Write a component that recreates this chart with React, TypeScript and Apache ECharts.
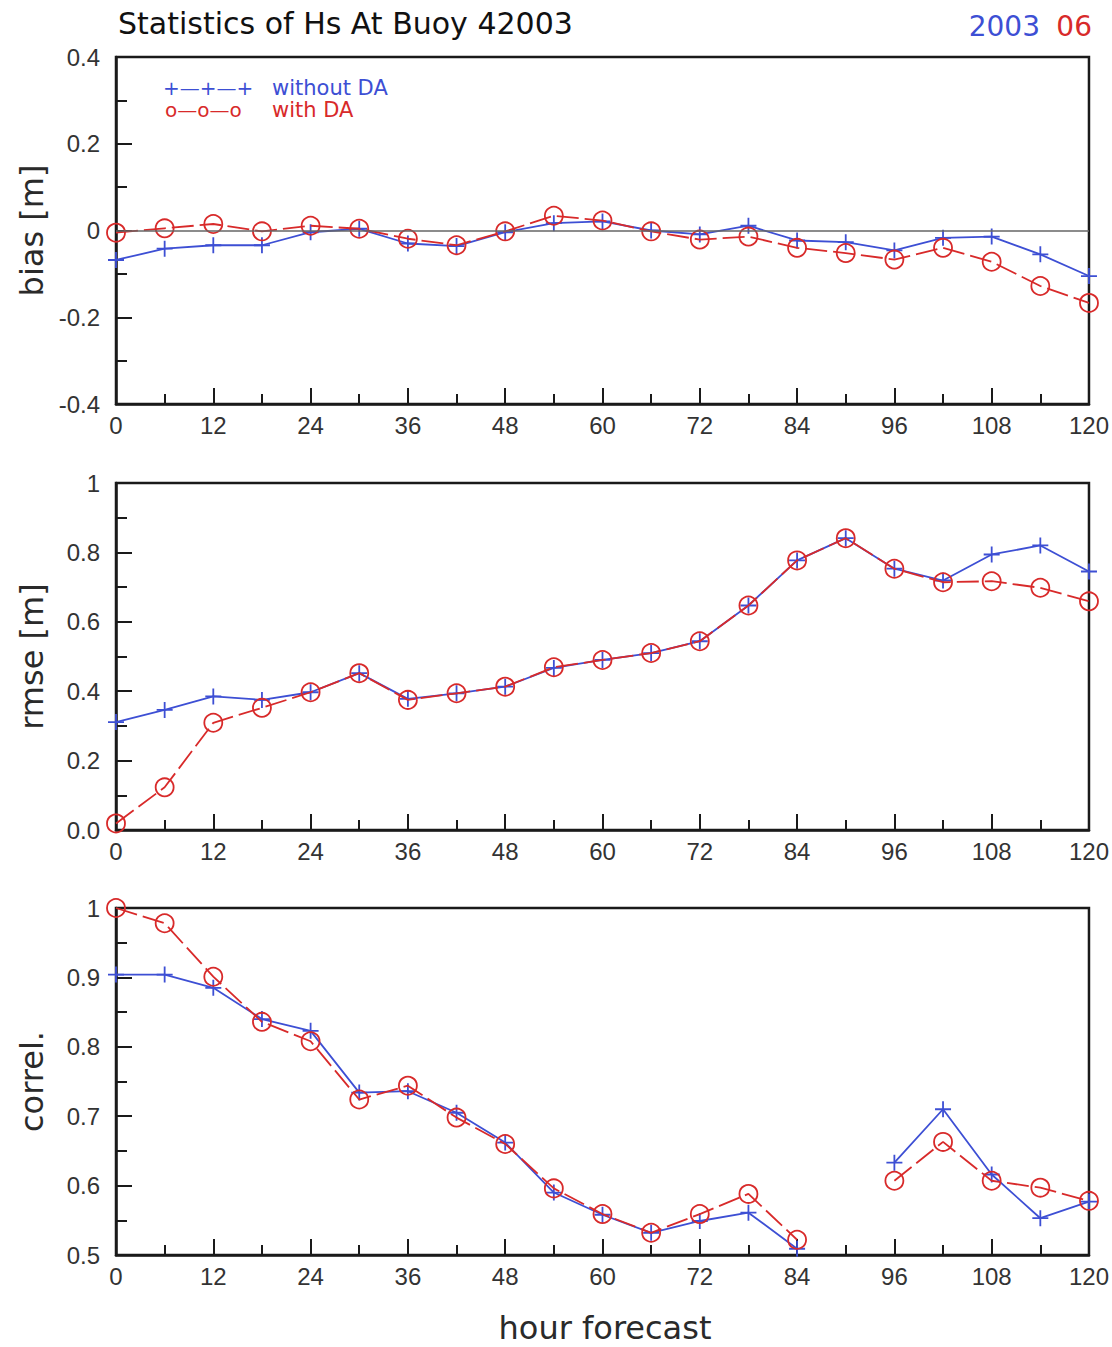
import React, { useEffect, useRef } from "react";
import * as echarts from "echarts";

const HOURS = [0, 6, 12, 18, 24, 30, 36, 42, 48, 54, 60, 66, 72, 78, 84, 90, 96, 102, 108, 114, 120];
const BIAS_NO_DA = [-0.068, -0.042, -0.034, -0.034, -0.004, 0.004, -0.03, -0.036, -0.004, 0.017, 0.021, 0.0, -0.009, 0.011, -0.023, -0.027, -0.046, -0.017, -0.014, -0.055, -0.105];
const BIAS_DA = [-0.005, 0.005, 0.015, -0.002, 0.011, 0.004, -0.019, -0.034, -0.002, 0.034, 0.023, -0.002, -0.021, -0.014, -0.04, -0.052, -0.067, -0.04, -0.072, -0.128, -0.167];
const RMSE_NO_DA = [0.311, 0.346, 0.385, 0.375, 0.397, 0.452, 0.378, 0.394, 0.413, 0.467, 0.49, 0.51, 0.544, 0.647, 0.777, 0.841, 0.753, 0.719, 0.794, 0.82, 0.745];
const RMSE_DA = [0.019, 0.123, 0.309, 0.352, 0.397, 0.452, 0.375, 0.394, 0.413, 0.469, 0.49, 0.51, 0.544, 0.647, 0.777, 0.841, 0.753, 0.714, 0.717, 0.698, 0.659];
const CORR_NO_DA = [0.904, 0.904, 0.885, 0.84, 0.823, 0.734, 0.736, 0.705, 0.662, 0.59, 0.558, 0.532, 0.549, 0.561, 0.509, null, 0.633, 0.71, 0.616, 0.553, 0.577];
const CORR_DA = [1.0, 0.978, 0.901, 0.836, 0.808, 0.724, 0.744, 0.698, 0.66, 0.596, 0.559, 0.532, 0.559, 0.588, 0.522, null, 0.607, 0.663, 0.607, 0.597, 0.578];

const PANEL_NAMES = ["bias [m]", "rmse [m]", "correl."];
const Y_RANGES = [
  { min: -0.4, max: 0.4, interval: 0.2 },
  { min: 0, max: 1, interval: 0.2 },
  { min: 0.5, max: 1, interval: 0.1 },
];

const BLUE = "#3d4fd4";
const RED = "#d82a2a";
const FONT_MAIN = '"DejaVu Sans", sans-serif';
const FONT_TICK = '"Liberation Sans", Arial, sans-serif';

const GRID_LEFT = 116;
const GRID_WIDTH = 976;
const GRID_HEIGHT = 347;
const GRID_TOPS = [57, 483, 908];

const PLUS = "path://M0,5L10,5M5,0L5,10";

function pairs(vals: (number | null)[]) {
  return HOURS.map((h, i) => [h, vals[i] === null ? "-" : vals[i]]);
}

function yFormatter(panel: number) {
  return (v: number) => {
    if (Math.abs(v - 1) < 1e-9) return "1";
    if (Math.abs(v) < 1e-9) return panel === 0 ? "0" : "0.0";
    return v.toFixed(1);
  };
}

export default function App() {
  const ref = useRef<HTMLDivElement>(null);
  useEffect(() => {
    if (!ref.current) return;
    const chart = echarts.init(ref.current, undefined, { renderer: "svg" });
    const axisLine = { show: true, onZero: false, lineStyle: { color: "#1a1a1a", width: 2.5 } };
    const grids = GRID_TOPS.map((t) => ({
      left: GRID_LEFT,
      top: t,
      width: GRID_WIDTH,
      height: GRID_HEIGHT,
      show: true,
      borderColor: "#1a1a1a",
      borderWidth: 2.5,
      backgroundColor: "transparent",
    }));
    const xAxes = GRID_TOPS.map((_, i) => ({
      type: "value",
      gridIndex: i,
      min: 0,
      max: 120,
      interval: 12,
      axisLine,
      axisTick: { show: true, inside: true, length: 16, lineStyle: { color: "#1a1a1a", width: 2 } },
      minorTick: { show: true, splitNumber: 2, length: 10, lineStyle: { color: "#1a1a1a", width: 2 } },
      axisLabel: { color: "#333", fontSize: 24, fontFamily: FONT_TICK, margin: 9 },
      splitLine: { show: false },
      minorSplitLine: { show: false },
    }));
    const yAxes = Y_RANGES.map((r, i) => ({
      type: "value",
      gridIndex: i,
      min: r.min,
      max: r.max,
      interval: r.interval,
      axisLine,
      axisTick: { show: true, inside: true, length: 16, lineStyle: { color: "#1a1a1a", width: 2 } },
      minorTick: { show: true, splitNumber: 2, length: 11, lineStyle: { color: "#1a1a1a", width: 2 } },
      axisLabel: { color: "#333", fontSize: 24, fontFamily: FONT_TICK, margin: 16, formatter: yFormatter(i) },
      splitLine: { show: false },
      minorSplitLine: { show: false },
    }));
    const datasets = [
      [BIAS_NO_DA, BIAS_DA],
      [RMSE_NO_DA, RMSE_DA],
      [CORR_NO_DA, CORR_DA],
    ];
    const series: any[] = [];
    datasets.forEach(([noDa, da], i) => {
      const blue: any = {
        type: "line",
        xAxisIndex: i,
        yAxisIndex: i,
        data: pairs(noDa as (number | null)[]),
        symbol: PLUS,
        symbolSize: 16,
        showSymbol: true,
        connectNulls: false,
        lineStyle: { color: BLUE, width: 1.8, type: "solid" },
        itemStyle: { color: BLUE, borderColor: BLUE, borderWidth: 1.8 },
        silent: true,
        z: 3,
      };
      if (i === 0) {
        blue.markLine = {
          silent: true,
          symbol: ["none", "none"],
          label: { show: false },
          lineStyle: { color: "#666", width: 1.5, type: "solid" },
          data: [{ yAxis: 0 }],
        };
      }
      series.push(blue);
      series.push({
        type: "line",
        xAxisIndex: i,
        yAxisIndex: i,
        data: pairs(da as (number | null)[]),
        symbol: "circle",
        symbolSize: 18,
        showSymbol: true,
        connectNulls: false,
        lineStyle: { color: RED, width: 1.8, type: [22, 6] },
        itemStyle: { color: "rgba(255,255,255,0)", borderColor: RED, borderWidth: 1.8 },
        silent: true,
        z: 4,
      });
    });

    const graphic: any[] = [
      {
        type: "text",
        left: 118,
        top: 8,
        style: { text: "Statistics of Hs At Buoy 42003", fill: "#111", font: `30px ${FONT_MAIN}` },
      },
      {
        type: "text",
        x: 1040,
        y: 26,
        style: { text: "2003", fill: BLUE, font: `28px ${FONT_MAIN}`, textAlign: "right", textVerticalAlign: "middle" },
      },
      {
        type: "text",
        x: 1092,
        y: 26,
        style: { text: "06", fill: RED, font: `28px ${FONT_MAIN}`, textAlign: "right", textVerticalAlign: "middle" },
      },
      {
        type: "text",
        x: 163,
        y: 88,
        style: { text: "+—+—+", fill: BLUE, font: `20px ${FONT_MAIN}`, textVerticalAlign: "middle" },
      },
      {
        type: "text",
        x: 272,
        y: 88,
        style: { text: "without DA", fill: BLUE, font: `21px ${FONT_MAIN}`, textVerticalAlign: "middle" },
      },
      {
        type: "text",
        x: 165,
        y: 110,
        style: { text: "o—o—o", fill: RED, font: `20px ${FONT_MAIN}`, textVerticalAlign: "middle" },
      },
      {
        type: "text",
        x: 272,
        y: 110,
        style: { text: "with DA", fill: RED, font: `21px ${FONT_MAIN}`, textVerticalAlign: "middle" },
      },
      {
        type: "text",
        x: 605,
        y: 1328,
        style: { text: "hour forecast", fill: "#2a2a2a", font: `32px ${FONT_MAIN}`, textAlign: "center", textVerticalAlign: "middle" },
      },
    ];
    PANEL_NAMES.forEach((name, i) => {
      graphic.push({
        type: "text",
        x: 32,
        y: GRID_TOPS[i] + GRID_HEIGHT / 2,
        rotation: Math.PI / 2,
        style: { text: name, fill: "#2a2a2a", font: `32px ${FONT_MAIN}`, textAlign: "center", textVerticalAlign: "middle" },
      });
    });

    chart.setOption({
      animation: false,
      backgroundColor: "#ffffff",
      grid: grids,
      xAxis: xAxes,
      yAxis: yAxes,
      series,
      graphic,
    });
    return () => chart.dispose();
  }, []);
  return (
    <div
      ref={ref}
      style={{ position: "absolute", left: 0, top: 0, width: 1112, height: 1347, background: "#fff" }}
    />
  );
}
